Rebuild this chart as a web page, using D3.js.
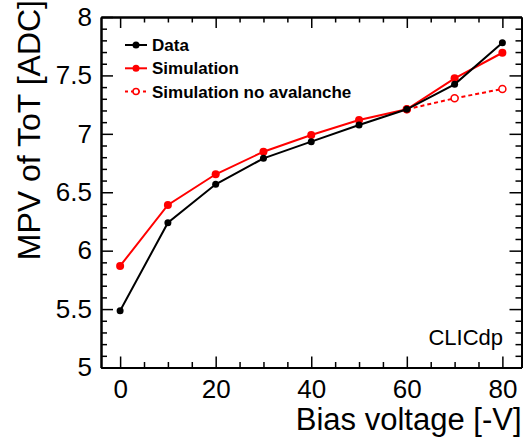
<!DOCTYPE html>
<html>
<head>
<meta charset="utf-8">
<script src="https://cdn.jsdelivr.net/npm/d3@7"></script>
<style>
  body { margin: 0; background: #fff; }
  svg { display: block; font-family: "Liberation Sans", Arial, Helvetica, sans-serif; }
</style>
</head>
<body>
<div id="chart"></div>
<script>
const voltages = [0, 10, 20, 30, 40, 50, 60, 70, 80];
const dataMpv = [5.486, 6.239, 6.568, 6.79, 6.933, 7.076, 7.21, 7.424, 7.78];
const simMpv = [5.869, 6.391, 6.654, 6.847, 6.99, 7.118, 7.21, 7.475, 7.694];
const noAvVoltages = [60, 70, 80];
const noAvMpv = [7.21, 7.304, 7.384];
const xMajorTicks = [0, 20, 40, 60, 80];
const yMajorTicks = [5, 5.5, 6, 6.5, 7, 7.5, 8];

const W = 523, H = 438;
const margin = { top: 17, right: 1.5, bottom: 70.5, left: 101 };

const svg = d3.select('#chart').append('svg')
    .attr('width', W)
    .attr('height', H);

const x = d3.scaleLinear().domain([-4, 84]).range([margin.left, W - margin.right]);
const y = d3.scaleLinear().domain([5, 8]).range([H - margin.bottom, margin.top]);

const xMinor = d3.range(0, 85, 5).filter(v => !xMajorTicks.includes(v));
const yMinor = d3.range(50, 81, 1).map(v => v / 10).filter(v => !yMajorTicks.includes(v));

function styleAxis(g) {
    g.selectAll('.domain').attr('stroke', '#000').attr('stroke-width', 2);
    g.selectAll('.tick line').attr('stroke', '#000').attr('stroke-width', 1.5);
}

// bottom axis
svg.append('g')
    .attr('transform', `translate(0,${y(5)})`)
    .call(d3.axisBottom(x).tickValues(xMajorTicks).tickSizeInner(-11).tickSizeOuter(0).tickPadding(12))
    .call(styleAxis)
    .call(g => g.selectAll('.tick text').attr('font-size', 26).attr('fill', '#000').attr('font-family', null));
svg.append('g')
    .attr('transform', `translate(0,${y(5)})`)
    .call(d3.axisBottom(x).tickValues(xMinor).tickSizeInner(-5.5).tickSizeOuter(0).tickFormat(''))
    .call(styleAxis);

// top axis
svg.append('g')
    .attr('transform', `translate(0,${y(8)})`)
    .call(d3.axisTop(x).tickValues(xMajorTicks).tickSizeInner(-11).tickSizeOuter(0).tickFormat(''))
    .call(styleAxis);
svg.append('g')
    .attr('transform', `translate(0,${y(8)})`)
    .call(d3.axisTop(x).tickValues(xMinor).tickSizeInner(-5.5).tickSizeOuter(0).tickFormat(''))
    .call(styleAxis);

// left axis
svg.append('g')
    .attr('transform', `translate(${x(-4)},0)`)
    .call(d3.axisLeft(y).tickValues(yMajorTicks).tickSizeInner(-12).tickSizeOuter(0).tickPadding(9)
        .tickFormat(d => d3.format('')(d)))
    .call(styleAxis)
    .call(g => g.selectAll('.tick text').attr('font-size', 26).attr('fill', '#000').attr('font-family', null));
svg.append('g')
    .attr('transform', `translate(${x(-4)},0)`)
    .call(d3.axisLeft(y).tickValues(yMinor).tickSizeInner(-6).tickSizeOuter(0).tickFormat(''))
    .call(styleAxis);

// right axis
svg.append('g')
    .attr('transform', `translate(${x(84)},0)`)
    .call(d3.axisRight(y).tickValues(yMajorTicks).tickSizeInner(-12).tickSizeOuter(0).tickFormat(''))
    .call(styleAxis);
svg.append('g')
    .attr('transform', `translate(${x(84)},0)`)
    .call(d3.axisRight(y).tickValues(yMinor).tickSizeInner(-6).tickSizeOuter(0).tickFormat(''))
    .call(styleAxis);

// axis titles
svg.append('text')
    .attr('x', x(84))
    .attr('y', 430)
    .attr('text-anchor', 'end')
    .attr('font-size', 31)
    .text('Bias voltage [-V]');

svg.append('text')
    .attr('transform', `translate(40,0) rotate(-90)`)
    .attr('text-anchor', 'end')
    .attr('font-size', 32)
    .text('MPV of ToT [ADC]');

// series
const line = d3.line().x(d => x(d[0])).y(d => y(d[1]));

const noAv = d3.zip(noAvVoltages, noAvMpv);
const sim = d3.zip(voltages, simMpv);
const dat = d3.zip(voltages, dataMpv);

svg.append('path')
    .datum(noAv)
    .attr('fill', 'none')
    .attr('stroke', '#ff0000')
    .attr('stroke-width', 2)
    .attr('stroke-dasharray', '4,3')
    .attr('d', line);
svg.selectAll('.noav').data(noAv).enter().append('circle')
    .attr('cx', d => x(d[0])).attr('cy', d => y(d[1])).attr('r', 3.5)
    .attr('fill', '#fff').attr('stroke', '#ff0000').attr('stroke-width', 1.5);

svg.append('path')
    .datum(sim)
    .attr('fill', 'none')
    .attr('stroke', '#ff0000')
    .attr('stroke-width', 2)
    .attr('d', line);
svg.selectAll('.sim').data(sim).enter().append('circle')
    .attr('cx', d => x(d[0])).attr('cy', d => y(d[1])).attr('r', 4)
    .attr('fill', '#ff0000');

svg.append('path')
    .datum(dat)
    .attr('fill', 'none')
    .attr('stroke', '#000')
    .attr('stroke-width', 2)
    .attr('d', line);
svg.selectAll('.dat').data(dat).enter().append('circle')
    .attr('cx', d => x(d[0])).attr('cy', d => y(d[1])).attr('r', 3.5)
    .attr('fill', '#000');

// legend
const legendItems = [
    { label: 'Data', color: '#000', dash: null, open: false },
    { label: 'Simulation', color: '#ff0000', dash: null, open: false },
    { label: 'Simulation no avalanche', color: '#ff0000', dash: '3,3', open: true }
];
const legend = svg.append('g');
legendItems.forEach((it, i) => {
    const ly = 45 + i * 23.3;
    legend.append('line')
        .attr('x1', 125).attr('x2', 147).attr('y1', ly).attr('y2', ly)
        .attr('stroke', it.color).attr('stroke-width', 2)
        .attr('stroke-dasharray', it.dash);
    legend.append('circle')
        .attr('cx', 136).attr('cy', ly).attr('r', it.open ? 3 : 3.5)
        .attr('fill', it.open ? '#fff' : it.color)
        .attr('stroke', it.open ? it.color : 'none')
        .attr('stroke-width', 1.5);
    legend.append('text')
        .attr('x', 152).attr('y', ly + 6)
        .attr('font-size', 17)
        .attr('font-weight', 'bold')
        .text(it.label);
});

svg.append('text')
    .attr('x', 503)
    .attr('y', 345)
    .attr('text-anchor', 'end')
    .attr('font-size', 22)
    .text('CLICdp');
</script>
</body>
</html>
